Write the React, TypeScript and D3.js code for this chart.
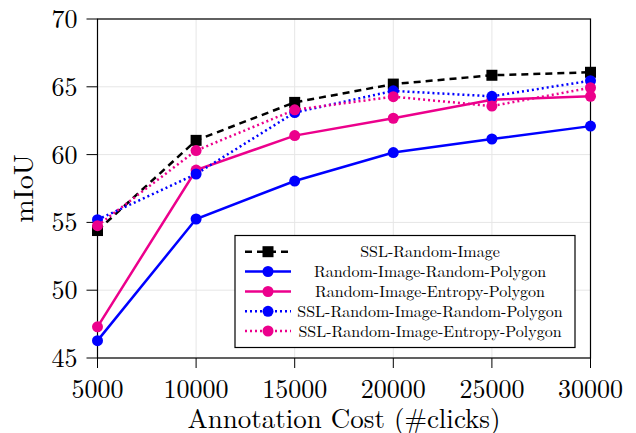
import React from "react";
import * as d3 from "d3";

const xValues = [5000, 10000, 15000, 20000, 25000, 30000];
const xTicks = [5000, 10000, 15000, 20000, 25000, 30000];
const yTicks = [45, 50, 55, 60, 65, 70];

const sslRandomImage = [54.4, 61.05, 63.85, 65.2, 65.85, 66.07];
const randRandPoly = [46.28, 55.25, 58.05, 60.15, 61.15, 62.1];
const randEntropyPoly = [47.3, 58.86, 61.4, 62.68, 64.05, 64.3];
const sslRandRandPoly = [55.2, 58.57, 63.1, 64.7, 64.3, 65.45];
const sslRandEntropyPoly = [54.76, 60.3, 63.3, 64.27, 63.58, 64.93];

const seriesNames = [
  "SSL-Random-Image",
  "Random-Image-Random-Polygon",
  "Random-Image-Entropy-Polygon",
  "SSL-Random-Image-Random-Polygon",
  "SSL-Random-Image-Entropy-Polygon",
];

const BLUE = "#0000ff";
const PINK = "#ec008c";

const seriesList = [
  { name: seriesNames[0], values: sslRandomImage, color: "#000000", dash: "7,5", marker: "square" },
  { name: seriesNames[1], values: randRandPoly, color: BLUE, dash: "", marker: "circle" },
  { name: seriesNames[2], values: randEntropyPoly, color: PINK, dash: "", marker: "circle" },
  { name: seriesNames[3], values: sslRandRandPoly, color: BLUE, dash: "2,3", marker: "circle" },
  { name: seriesNames[4], values: sslRandEntropyPoly, color: PINK, dash: "2,3", marker: "circle" },
];

const FONT = "'Latin Modern Roman', 'DejaVu Serif', serif";

export default function App() {
  const W = 636, H = 433;
  const left = 97.5, right = 590.5, top = 19, bottom = 358;
  const x = d3.scaleLinear().domain([5000, 30000]).range([left, right]);
  const y = d3.scaleLinear().domain([45, 70]).range([bottom, top]);
  const line = d3.line<number>().x((_, i) => x(xValues[i])).y((v) => y(v));

  const legX = 235, legY = 235.5, legW = 340, legH = 112;
  const rowY = [251.7, 271.5, 291.5, 311.3, 331];

  const marker = (kind: string, cx: number, cy: number, color: string, key: any) =>
    kind === "square" ? (
      <rect key={key} x={cx - 5.5} y={cy - 5.5} width={11} height={11} fill={color} />
    ) : (
      <circle key={key} cx={cx} cy={cy} r={5.5} fill={color} />
    );

  return (
    <div style={{ position: "absolute", left: 0, top: 0 }}>
      <svg width={W} height={H} style={{ display: "block", background: "#fff" }}>
        {xTicks.map((t) => (
          <line key={"gx" + t} x1={x(t)} x2={x(t)} y1={top} y2={bottom} stroke="#e6e6e6" strokeWidth={1} />
        ))}
        {yTicks.map((t) => (
          <line key={"gy" + t} x1={left} x2={right} y1={y(t)} y2={y(t)} stroke="#e6e6e6" strokeWidth={1} />
        ))}
        <rect x={left} y={top} width={right - left} height={bottom - top} fill="none" stroke="#000" strokeWidth={1.2} />
        {xTicks.map((t) => (
          <g key={"tx" + t}>
            <line x1={x(t)} x2={x(t)} y1={bottom} y2={bottom + 10} stroke="#000" strokeWidth={1} />
            <text x={x(t)} y={bottom + 39.5} textAnchor="middle" fontFamily={FONT} fontSize={26} fill="#000">
              {t}
            </text>
          </g>
        ))}
        {yTicks.map((t) => (
          <g key={"ty" + t}>
            <line x1={left - 11} x2={left} y1={y(t)} y2={y(t)} stroke="#000" strokeWidth={1} />
            <text x={left - 20} y={y(t) + 9} textAnchor="end" fontFamily={FONT} fontSize={26} fill="#000">
              {t}
            </text>
          </g>
        ))}
        <text x={(left + right) / 2} y={427.5} textAnchor="middle" fontFamily={FONT} fontSize={27} fill="#000">
          Annotation Cost (#clicks)
        </text>
        <text
          transform={`translate(${33},${(top + bottom) / 2}) rotate(-90)`}
          textAnchor="middle"
          fontFamily={FONT}
          fontSize={28}
          fill="#000"
        >
          mIoU
        </text>
        {seriesList.map((s, si) => (
          <g key={"s" + si}>
            <path d={line(s.values) || ""} fill="none" stroke={s.color} strokeWidth={2.5} strokeDasharray={s.dash} />
            {s.values.map((v, i) => marker(s.marker, x(xValues[i]), y(v), s.color, i))}
          </g>
        ))}
        <rect x={legX} y={legY} width={legW} height={legH} fill="#fff" stroke="#000" strokeWidth={1.2} />
        {seriesList.map((s, i) => (
          <g key={"l" + i}>
            <line x1={245} x2={291} y1={rowY[i]} y2={rowY[i]} stroke={s.color} strokeWidth={2.5} strokeDasharray={s.dash} />
            {marker(s.marker, 268, rowY[i], s.color, "m")}
            <text x={430} y={rowY[i] + 5.5} textAnchor="middle" fontFamily={FONT} fontSize={16} fill="#000">
              {s.name}
            </text>
          </g>
        ))}
      </svg>
    </div>
  );
}
